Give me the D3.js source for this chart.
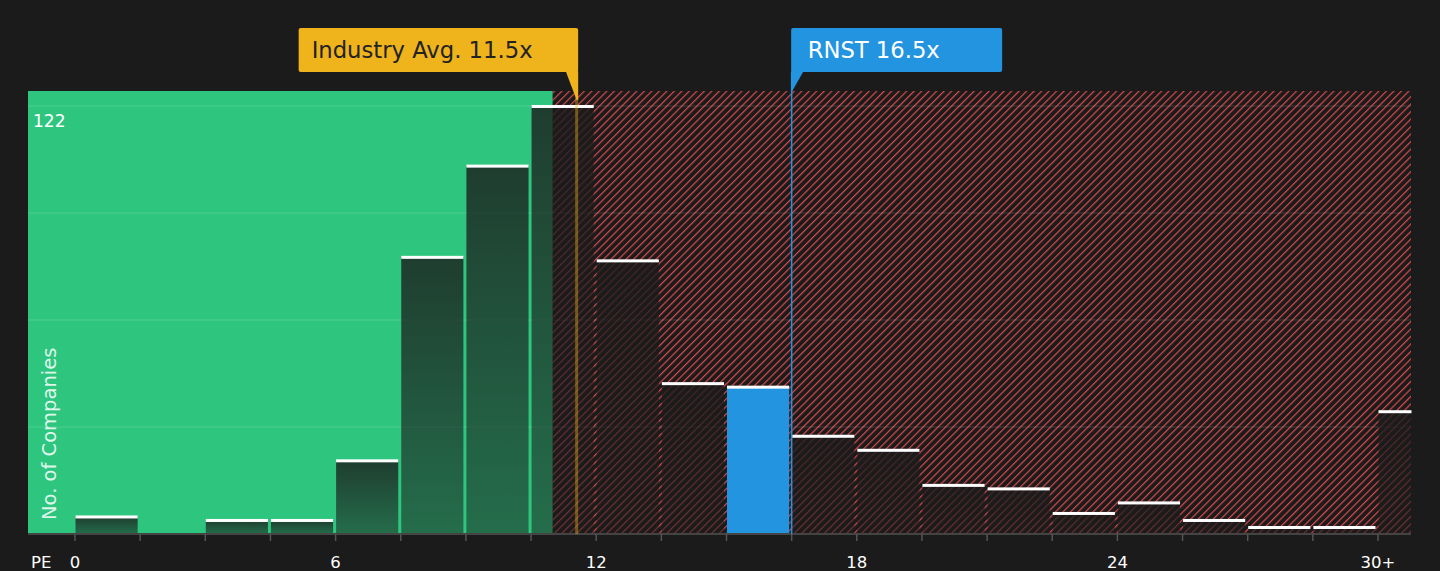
<!DOCTYPE html>
<html>
<head>
<meta charset="utf-8">
<script src="https://cdn.jsdelivr.net/npm/d3@7"></script>
<style>
  html, body { margin: 0; padding: 0; background: #1b1b1b; }
  svg { display: block; font-family: "DejaVu Sans", sans-serif; }
</style>
</head>
<body>
<div id="chart"></div>
<script>
// PE distribution: bins of 1.5x, last bin is 30+
var binStarts = [0, 1.5, 3, 4.5, 6, 7.5, 9, 10.5, 12, 13.5, 15, 16.5, 18, 19.5, 21, 22.5, 24, 25.5, 27, 28.5, 30];
var counts    = [5, 0, 4, 4, 21, 79, 105, 122, 78, 43, 42, 28, 24, 14, 13, 6, 9, 4, 2, 2, 35];
var tickValues = [0, 6, 12, 18, 24, 30];
var tickLabels = ["0", "6", "12", "18", "24", "30+"];

var industryAvg = 11.55, industryLabel = "Industry Avg. 11.5x";
var companyPE = 16.5, companyLabel = "RNST 16.5x";
var fairLimit = 11.0;
var binWidth = 1.5, maxCount = 122;

var width = 1440, height = 571;
var plotTop = 91, plotBottom = 534, plotLeft = 28, plotRight = 1411;

var svg = d3.select("#chart").append("svg")
    .attr("width", width)
    .attr("height", height);

var x = d3.scaleLinear().domain([0, 30]).range([75, 1378]);
var y = d3.scaleLinear().domain([0, maxCount * 1.035]).range([plotBottom, plotTop]);

var defs = svg.append("defs");

var hatch = defs.append("pattern")
    .attr("id", "hatch")
    .attr("patternUnits", "userSpaceOnUse")
    .attr("width", 5.3)
    .attr("height", 5.3)
    .attr("patternTransform", "rotate(45)");
hatch.append("rect").attr("width", 5.3).attr("height", 5.3).attr("fill", "#1b1b1b");
hatch.append("line")
    .attr("x1", 0).attr("y1", 0).attr("x2", 0).attr("y2", 5.3)
    .attr("stroke", "#d94a4e").attr("stroke-width", 2.4);

var grad = defs.append("linearGradient")
    .attr("id", "barFade")
    .attr("x1", 0).attr("y1", 0).attr("x2", 0).attr("y2", 1);
grad.append("stop").attr("offset", "0%").attr("stop-color", "#1b1b1b").attr("stop-opacity", 0.8);
grad.append("stop").attr("offset", "100%").attr("stop-color", "#1b1b1b").attr("stop-opacity", 0.52);

// background zones
svg.append("rect")
    .attr("x", plotLeft).attr("y", plotTop)
    .attr("width", x(fairLimit) - plotLeft).attr("height", plotBottom - plotTop)
    .attr("fill", "#2ec67f");
svg.append("rect")
    .attr("x", x(fairLimit)).attr("y", plotTop)
    .attr("width", plotRight - x(fairLimit)).attr("height", plotBottom - plotTop)
    .attr("fill", "url(#hatch)");

// grid lines at quarters of max
svg.append("g").selectAll("line")
    .data([1, 2, 3, 4].map(function(k) { return maxCount * k / 4; }))
    .enter().append("line")
    .attr("x1", plotLeft).attr("x2", plotRight)
    .attr("y1", function(d) { return y(d); })
    .attr("y2", function(d) { return y(d); })
    .attr("stroke", "#ffffff")
    .attr("stroke-opacity", 0.1)
    .attr("stroke-width", 1.5);

var bars = binStarts.map(function(b, i) {
    return { lo: b, hi: b === 30 ? x.invert(plotRight) : b + binWidth, n: counts[i] };
});

function barX(d) { return x(d.lo) + 0.5; }
function barW(d) { return d.lo === 30 ? x(d.hi) - x(d.lo) : x(d.hi) - x(d.lo) - 3; }

var barG = svg.append("g");
barG.selectAll("rect.bar")
    .data(bars.filter(function(d) { return d.n > 0; }))
    .enter().append("rect")
    .attr("class", "bar")
    .attr("x", barX)
    .attr("width", barW)
    .attr("y", function(d) { return y(d.n); })
    .attr("height", function(d) { return y(0) - y(d.n); })
    .attr("fill", function(d) {
        return (companyPE > d.lo && companyPE <= d.hi) ? "#2394e0" : "url(#barFade)";
    });

barG.selectAll("rect.cap")
    .data(bars.filter(function(d) { return d.n > 0; }))
    .enter().append("rect")
    .attr("class", "cap")
    .attr("x", barX)
    .attr("width", barW)
    .attr("y", function(d) { return y(d.n) - 1; })
    .attr("height", 3)
    .attr("fill", "#ffffff");

// axis
svg.append("line")
    .attr("x1", plotLeft).attr("x2", plotRight)
    .attr("y1", plotBottom).attr("y2", plotBottom)
    .attr("stroke", "#444").attr("stroke-width", 2);

svg.append("g").selectAll("line")
    .data(binStarts)
    .enter().append("line")
    .attr("x1", function(d) { return x(d); })
    .attr("x2", function(d) { return x(d); })
    .attr("y1", plotBottom).attr("y2", plotBottom + 7)
    .attr("stroke", "#555").attr("stroke-width", 1.5);

svg.append("g").selectAll("text")
    .data(tickValues)
    .enter().append("text")
    .attr("x", function(d) { return x(d); })
    .attr("y", 568)
    .attr("text-anchor", "middle")
    .attr("fill", "#ffffff")
    .attr("font-size", 16.5)
    .text(function(d, i) { return tickLabels[i]; });

svg.append("text")
    .attr("x", 31).attr("y", 568)
    .attr("fill", "#ffffff").attr("font-size", 16.5)
    .text("PE");

svg.append("text")
    .attr("x", 33).attr("y", 127)
    .attr("fill", "#ffffff").attr("font-size", 17)
    .text(maxCount);

svg.append("text")
    .attr("transform", "translate(56,520) rotate(-90)")
    .attr("fill", "#ffffff").attr("fill-opacity", 0.85)
    .attr("font-size", 19.5)
    .text("No. of Companies");

// industry average marker
var ax = x(industryAvg);
svg.append("line")
    .attr("x1", ax).attr("x2", ax)
    .attr("y1", 72).attr("y2", plotBottom)
    .attr("stroke", "#efb31b").attr("stroke-opacity", 0.4).attr("stroke-width", 3);
svg.append("path")
    .attr("d", "M" + (ax - 11) + ",71 L" + (ax + 1.5) + ",71 L" + (ax + 1.5) + ",100 L" + ax + ",100 Z")
    .attr("fill", "#efb31b");
svg.append("rect")
    .attr("x", ax - 278).attr("y", 28)
    .attr("width", 279.5).attr("height", 44).attr("rx", 2)
    .attr("fill", "#efb31b");
svg.append("text")
    .attr("x", ax - 265).attr("y", 58)
    .attr("fill", "#222222").attr("font-size", 22.7)
    .text(industryLabel);

// company marker
var cx = x(companyPE);
svg.append("line")
    .attr("x1", cx).attr("x2", cx)
    .attr("y1", 72).attr("y2", plotBottom)
    .attr("stroke", "#2394e0").attr("stroke-width", 1.5);
svg.append("path")
    .attr("d", "M" + (cx - 0.5) + ",71 L" + (cx + 12) + ",71 L" + (cx - 0.5) + ",93 Z")
    .attr("fill", "#2394e0");
svg.append("rect")
    .attr("x", cx - 0.5).attr("y", 28)
    .attr("width", 211).attr("height", 44).attr("rx", 2)
    .attr("fill", "#2394e0");
svg.append("text")
    .attr("x", cx + 16).attr("y", 58)
    .attr("fill", "#ffffff").attr("font-size", 22.7)
    .text(companyLabel);
</script>
</body>
</html>
